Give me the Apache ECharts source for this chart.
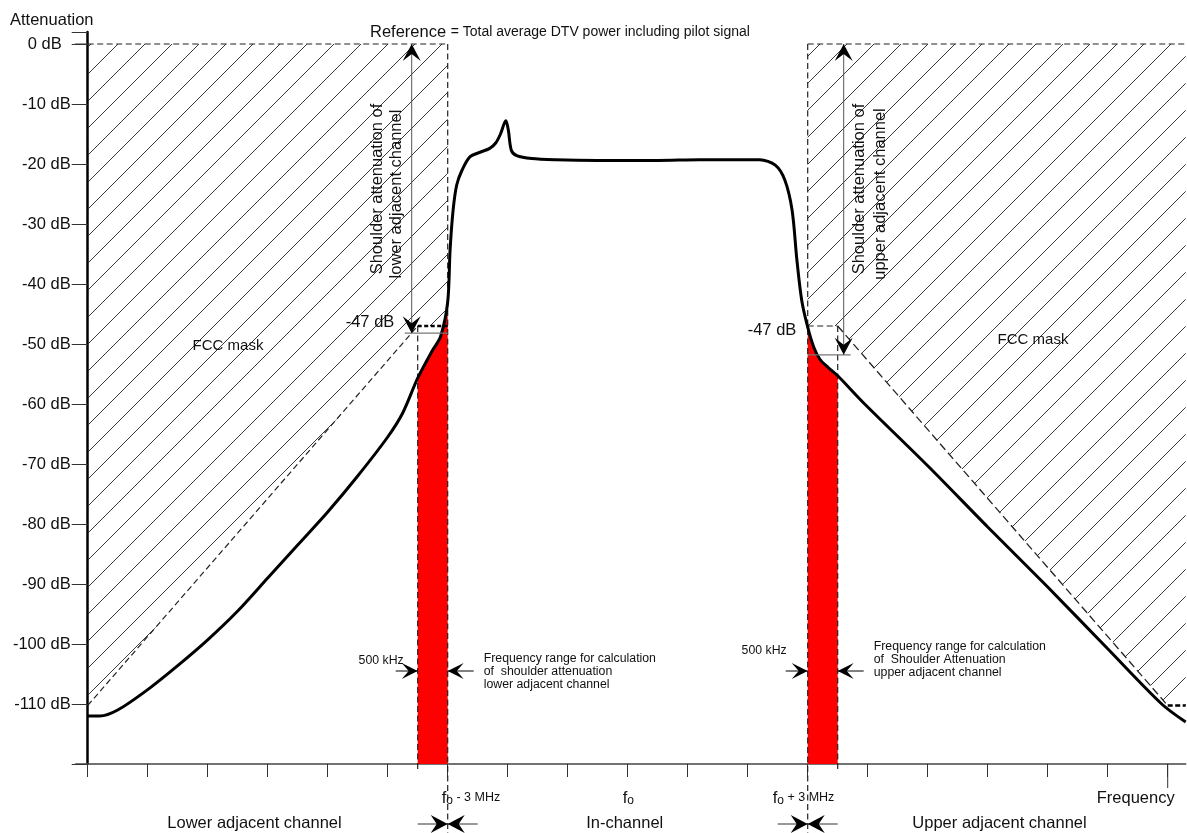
<!DOCTYPE html>
<html><head><meta charset="utf-8">
<script src="https://cdn.jsdelivr.net/npm/echarts@6/dist/echarts.min.js"></script>
<style>html,body{margin:0;padding:0;background:#fff}#c{width:1187px;height:833px}</style>
</head><body><div id="c"></div>
<script>
// ---- data (frequency in MHz relative to fo, level in dB) ----
const spectrumF = [-9,-8.8,-8.5,-8,-7.5,-7,-6.5,-6,-5.5,-5,-4.5,-4,-3.75,-3.5,-3.25,-3.12,-3.0,-2.96,-2.91,-2.85,-2.76,-2.63,-2.45,-2.3,-2.2,-2.12,-2.06,-2.03,-1.99,-1.94,-1.85,-1.6,-1.2,-0.5,0.5,1.2,1.8,2.2,2.46,2.62,2.74,2.82,2.9,3.0,3.1,3.2,3.35,3.5,3.92,5,6,7,8,8.9,9.3];
const spectrumDb = [-112,-112,-111,-107.6,-103.6,-99.3,-94.5,-89,-83.5,-78,-72,-65.5,-61.5,-55.7,-51,-48.8,-43,-34.3,-27.7,-23.5,-21,-18.8,-18,-17.4,-16.5,-15,-13.3,-12.8,-14.3,-17.7,-18.6,-19.1,-19.3,-19.4,-19.4,-19.3,-19.3,-19.3,-20.2,-22.7,-27.7,-36,-42.7,-47.2,-50.5,-52.5,-54,-55.3,-59.7,-70.3,-80.5,-90.5,-100.8,-110,-113];
const maskLeftF = [-9,-3.5,-3];
const maskLeftDb = [-110.25,-47,-47];
const maskRightF = [3,3.5,9,9.3];
const maskRightDb = [-47,-47,-110.25,-110.25];
const bandLower = [-3.5,-3];
const bandUpper = [3,3.5];
const yTickValues = [0,-10,-20,-30,-40,-50,-60,-70,-80,-90,-100,-110];
const yTickLabels = ['0 dB','-10 dB','-20 dB','-30 dB','-40 dB','-50 dB','-60 dB','-70 dB','-80 dB','-90 dB','-100 dB','-110 dB'];
const shoulderArrowF = [-3.6, 3.6];
const shoulderArrowDb = [-48.2, -51.8];
const limitDb = -47;

const FONT = "'Liberation Sans', Arial, sans-serif";
const pts = (xs, ys) => xs.map((x, i) => [x, ys[i]]);
const spectrum = pts(spectrumF, spectrumDb);

function hatchCanvas() {
  const s = 27, c = document.createElement('canvas');
  c.width = s; c.height = s;
  const g = c.getContext('2d');
  g.strokeStyle = '#222'; g.lineWidth = 0.9;
  [0, s, 2 * s].forEach(k => { g.beginPath(); g.moveTo(-2, k + 2); g.lineTo(k + 2, -2); g.stroke(); });
  return c;
}
const hatch = { image: hatchCanvas(), repeat: 'repeat' };

function seg(data, ls, z) {
  return { type: 'line', xAxisIndex: 0, yAxisIndex: 0, data, symbol: 'none', clip: false, silent: true,
    lineStyle: Object.assign({ color: '#222', width: 1.2 }, ls), z: z || 4, animation: false };
}
const dash = { type: [6, 3.5] };

const series = [
  { type: 'line', data: pts(maskLeftF, maskLeftDb), symbol: 'none', lineStyle: { width: 0 },
    areaStyle: { color: hatch, origin: 0, opacity: 1 }, z: 1, animation: false },
  { type: 'line', data: pts(maskRightF, maskRightDb), symbol: 'none', lineStyle: { width: 0 },
    areaStyle: { color: hatch, origin: 0, opacity: 1 }, z: 1, animation: false },
  { type: 'line', data: spectrum.filter(p => p[0] >= bandLower[0] && p[0] <= bandLower[1]), symbol: 'none', smooth: 0.3,
    lineStyle: { width: 0 }, areaStyle: { color: '#ff0000', origin: 'start', opacity: 1 }, z: 2, animation: false },
  { type: 'line', data: spectrum.filter(p => p[0] >= bandUpper[0] && p[0] <= bandUpper[1]), symbol: 'none', smooth: 0.3,
    lineStyle: { width: 0 }, areaStyle: { color: '#ff0000', origin: 'start', opacity: 1 }, z: 2, animation: false },
  // mask boundaries
  seg([[maskLeftF[0], 0], [bandLower[1], 0]], dash),
  seg([[bandUpper[0], 0], [maskRightF[3], 0]], dash),
  seg([[bandLower[1], 0], [bandLower[1], -131.5]], dash),
  seg([[bandUpper[0], 0], [bandUpper[0], -131.5]], dash),
  seg([[bandLower[0], limitDb], [bandLower[0], -121]], dash),
  seg([[bandUpper[1], limitDb], [bandUpper[1], -121]], dash),
  seg(pts(maskLeftF.slice(0, 2), maskLeftDb.slice(0, 2)), dash),
  seg(pts(maskLeftF.slice(1), maskLeftDb.slice(1)), { type: [4, 2.5], width: 2.5, color: '#000' }),
  seg(pts(maskRightF.slice(0, 2), maskRightDb.slice(0, 2)), dash),
  seg(pts(maskRightF.slice(1, 3), maskRightDb.slice(1, 3)), { type: [8, 4], width: 1.3 }),
  seg(pts(maskRightF.slice(2), maskRightDb.slice(2)), { type: [5, 2.5], width: 2.5, color: '#000' }),
  // axis extras
  seg([[-9.43, 0], [-9, 0]], { color: '#333', width: 1 }),
  seg([[9, -120], [9, -124]], { color: '#333', width: 1 }),
  // spectrum
  { type: 'line', data: spectrum, symbol: 'none', smooth: 0.3, lineStyle: { color: '#000', width: 3 }, z: 6, animation: false }
];

const option = {
  animation: false,
  backgroundColor: '#fff',
  grid: [
    { left: 75.7, right: 1.3, top: 32, bottom: 69 },
    { left: 87.7, right: 19.3, top: 32, bottom: 69 }
  ],
  xAxis: [
    { type: 'value', gridIndex: 0, min: -9.2, max: 9.3, axisLine: { show: true, onZero: false, lineStyle: { color: '#444', width: 1.5 } },
      axisTick: { show: false }, axisLabel: { show: false }, splitLine: { show: false } },
    { type: 'value', gridIndex: 1, min: -9, max: 9, interval: 1, axisLine: { show: false, onZero: false },
      axisTick: { show: true, length: 13, lineStyle: { color: '#333', width: 1 } }, axisLabel: { show: false }, splitLine: { show: false } }
  ],
  yAxis: [
    { type: 'value', gridIndex: 0, min: -120, max: 2, show: false },
    { type: 'value', gridIndex: 1, min: -120, max: 2, interval: 10,
      axisLine: { show: true, onZero: false, lineStyle: { color: '#000', width: 2.5 } },
      axisTick: { show: true, length: 16, lineStyle: { color: '#333', width: 1 } },
      axisLabel: { margin: 17, color: '#111', fontSize: 16.5, fontFamily: FONT,
        formatter: v => { const i = yTickValues.indexOf(v); return i < 0 ? '' : (v === 0 ? '{z|' + yTickLabels[i] + '}' : yTickLabels[i]); },
        rich: { z: { fontSize: 16.5, fontFamily: FONT, color: '#111', padding: [0, 9, 0, 0] } } },
      splitLine: { show: false } }
  ],
  series
};

const chart = echarts.init(document.getElementById('c'), null, { renderer: 'canvas' });
chart.setOption(option);

const P = (f, db) => chart.convertToPixel({ gridIndex: 0 }, [f, db]);
const G = [];
function text(t, x, y, o) {
  G.push({ type: 'text', z: 100, x, y, rotation: (o && o.rot) || 0,
    style: Object.assign({ text: t, fill: '#111', font: '16.5px ' + FONT, align: 'left', verticalAlign: 'middle' }, (o && o.style) || {}) });
}
function line(a, b, color, w) {
  G.push({ type: 'line', z: 90, shape: { x1: a[0], y1: a[1], x2: b[0], y2: b[1] }, style: { stroke: color || '#333', lineWidth: w || 1 } });
}
function head(tip, dx, dy, len, half, notch) {
  const nx = -dy, ny = dx;
  const bx = tip[0] - dx * len, by = tip[1] - dy * len;
  const mx = tip[0] - dx * notch, my = tip[1] - dy * notch;
  G.push({ type: 'polygon', z: 95, shape: { points: [tip, [bx + nx * half, by + ny * half], [mx, my], [bx - nx * half, by - ny * half]] }, style: { fill: '#000' } });
}

// shoulder attenuation arrows
shoulderArrowF.forEach((f, i) => {
  const top = P(f, 0), bot = P(f, shoulderArrowDb[i]);
  line(top, bot, '#555', 1);
  head(top, 0, -1, 17, 9, 10);
  head(bot, 0, 1, 17, 9, 10);
  const edge = i === 0 ? P(bandLower[1], shoulderArrowDb[i]) : P(bandUpper[0], shoulderArrowDb[i]);
  line([i === 0 ? bot[0] - 7 : bot[0] + 7, bot[1]], edge, '#777', 1.2);
});

// -47 dB labels
{ const a = P(bandLower[0], limitDb); text('-47 dB', a[0] - 72, a[1] - 4); }
{ const a = P(bandUpper[0], limitDb); text('-47 dB', a[0] - 60, a[1] + 4); }

// rotated labels
[[377, 189, 'Shoulder attenuation of'], [396, 194, 'lower adjacent channel'], [859, 189, 'Shoulder attenuation of'], [880, 194, 'upper adjacent channel']]
  .forEach(([x, y, t]) => text(t, x, y, { rot: Math.PI / 2, style: { align: 'center' } }));

text('FCC mask', 228, 346, { style: { align: 'center', font: '15px ' + FONT } });
text('FCC mask', 1033, 340, { style: { align: 'center', font: '15px ' + FONT } });

// titles
text('Attenuation', 10, 20);
text('{a|Reference} {b|= Total average DTV power including pilot signal}', 370, 32,
  { style: { rich: { a: { font: '16.5px ' + FONT, fill: '#111' }, b: { font: '14px ' + FONT, fill: '#111' } } } });

// 500 kHz arrows
const aY = -104.5;
[bandLower, bandUpper].forEach((b, i) => {
  const l = P(b[0], aY), r = P(b[1], aY);
  line([l[0] - 22, l[1]], l, '#000', 1);
  head(l, 1, 0, 16, 8, 9);
  line([r[0] + 26, r[1]], r, '#000', 1);
  head(r, -1, 0, 16, 8, 9);
  text('500 kHz', l[0] - (i ? 21 : 14), l[1] - (i ? 20 : 10), { style: { align: 'right', font: '12.3px ' + FONT } });
});
const small = { font: '12.3px ' + FONT, fill: '#111' };
[['Frequency range for calculation', 'of  shoulder attenuation', 'lower adjacent channel'], ['Frequency range for calculation', 'of  Shoulder Attenuation', 'upper adjacent channel']]
  .forEach((ls, i) => { const base = i === 0 ? P(bandLower[1], aY) : P(bandUpper[1], aY);
    ls.forEach((t, k) => text(t, base[0] + 36, base[1] - 12 + k * 13 + (i ? -12 : 0), { style: small })); });

// bottom labels
const rich = { f: { font: '16.5px ' + FONT, fill: '#111' }, o: { font: '12px ' + FONT, fill: '#111', verticalAlign: 'bottom' }, s: { font: '12.5px ' + FONT, fill: '#111' } };
text('{f|f}{o|o}{s| - 3 MHz}', P(-3, 0)[0] - 6, 798, { style: { rich } });
text('{f|f}{o|o}', P(0, 0)[0] - 5, 798, { style: { rich } });
text('{f|f}{o|o}{s| + 3 MHz}', P(3, 0)[0] - 35, 798, { style: { rich } });
text('Frequency', P(9, 0)[0] - 32, 798, { style: { align: 'center' } });
text('Lower adjacent channel', 254.5, 823, { style: { align: 'center' } });
text('In-channel', P(0, 0)[0] - 3, 823, { style: { align: 'center' } });
text('Upper adjacent channel', 999.5, 823, { style: { align: 'center' } });

// bow-tie arrows at channel edges
[bandLower[1], bandUpper[0]].forEach(f => {
  const c = P(f, 0)[0], y = 824;
  line([c - 30, y], [c + 30, y], '#333', 1);
  head([c, y], 1, 0, 17, 9, 11);
  head([c, y], -1, 0, 17, 9, 11);
});

chart.setOption({ graphic: G });
</script></body></html>
